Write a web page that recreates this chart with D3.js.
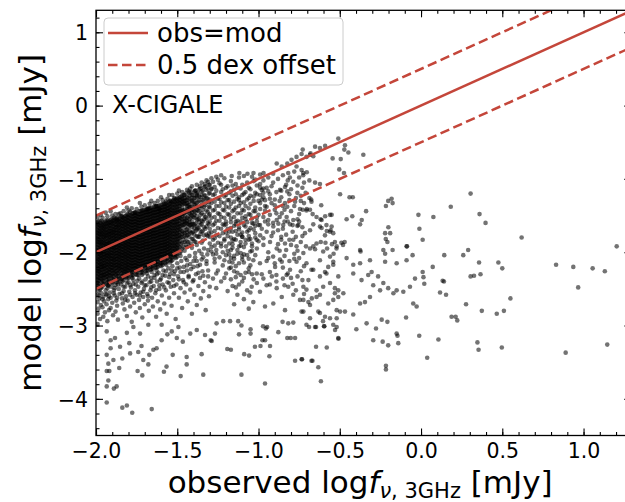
<!DOCTYPE html>
<html>
<head>
<meta charset="utf-8">
<script src="https://cdn.jsdelivr.net/npm/d3@7"></script>
<style>
  body { margin: 0; background: #fff; }
  text { font-family: "DejaVu Sans", sans-serif; fill: #000; }
</style>
</head>
<body>
<svg id="chart" width="625" height="502"></svg>
<script>

// tick values / labels
let x_ticks = [-2.0, -1.5, -1.0, -0.5, 0.0, 0.5, 1.0];
let y_ticks = [-4, -3, -2, -1, 0, 1];
let legend_labels = ["obs=mod", "0.5 dex offset"];
let line_offsets = [0, 0.5, -0.5];   // dex, model = obs + offset

let core_col_x = [-1.995, -1.98, -1.965, -1.95, -1.935, -1.92, -1.905, -1.89, -1.875, -1.86,
                  -1.845, -1.83, -1.815, -1.80, -1.785, -1.77, -1.755, -1.74, -1.725, -1.71,
                  -1.695, -1.68, -1.665, -1.65, -1.635, -1.62, -1.605, -1.59, -1.575, -1.56,
                  -1.545, -1.53, -1.515, -1.50, -1.485, -1.47, -1.455, -1.44, -1.425, -1.41,
                  -1.395, -1.38, -1.365, -1.35, -1.335, -1.32, -1.305];
let core_col_y = [
  [-1.60,-1.64,-1.69,-1.73,-1.76,-1.81,-1.85,-1.88,-1.93,-1.97,-2.00,-2.04,-2.09,-2.12,-2.16,-2.21,-2.25,-2.28,-2.33,-2.37,-2.42],
  [-1.63,-1.67,-1.71,-1.75,-1.79,-1.83,-1.86,-1.90,-1.95,-1.98,-2.02,-2.06,-2.10,-2.14,-2.18,-2.23,-2.26,-2.30,-2.35,-2.39,-2.44],
  [-1.57,-1.62,-1.66,-1.70,-1.74,-1.77,-1.82,-1.86,-1.89,-1.94,-1.97,-2.01,-2.05,-2.09,-2.13,-2.17,-2.20,-2.24,-2.29,-2.32,-2.37,-2.41,-2.46],
  [-1.61,-1.65,-1.68,-1.72,-1.77,-1.80,-1.84,-1.88,-1.92,-1.96,-1.99,-2.03,-2.07,-2.11,-2.15,-2.19,-2.22,-2.27,-2.31,-2.35,-2.40],
  [-1.56,-1.60,-1.64,-1.69,-1.73,-1.76,-1.80,-1.85,-1.89,-1.92,-1.96,-2.01,-2.04,-2.08,-2.12,-2.16,-2.20,-2.25,-2.29,-2.33,-2.38,-2.43],
  [-1.59,-1.63,-1.67,-1.71,-1.75,-1.79,-1.83,-1.87,-1.90,-1.94,-1.98,-2.02,-2.06,-2.10,-2.14,-2.18,-2.23,-2.27,-2.31,-2.36,-2.40,-2.44],
  [-1.55,-1.59,-1.62,-1.67,-1.71,-1.74,-1.78,-1.82,-1.86,-1.90,-1.93,-1.97,-2.01,-2.05,-2.09,-2.13,-2.17,-2.21,-2.25,-2.30,-2.35,-2.40],
  [-1.56,-1.60,-1.65,-1.69,-1.72,-1.76,-1.80,-1.84,-1.88,-1.92,-1.95,-1.99,-2.03,-2.08,-2.11,-2.15,-2.19,-2.24,-2.28,-2.33,-2.38],
  [-1.54,-1.58,-1.63,-1.66,-1.70,-1.74,-1.78,-1.82,-1.85,-1.89,-1.93,-1.97,-2.01,-2.05,-2.09,-2.13,-2.17,-2.21,-2.26,-2.31,-2.36,-2.41],
  [-1.55,-1.59,-1.63,-1.67,-1.71,-1.75,-1.79,-1.83,-1.87,-1.91,-1.95,-1.99,-2.03,-2.07,-2.11,-2.15,-2.19,-2.23,-2.28,-2.32,-2.37],
  [-1.51,-1.56,-1.60,-1.64,-1.68,-1.72,-1.76,-1.80,-1.84,-1.88,-1.92,-1.96,-2.00,-2.04,-2.08,-2.12,-2.16,-2.20,-2.24,-2.29,-2.33,-2.36],
  [-1.53,-1.57,-1.61,-1.65,-1.69,-1.73,-1.77,-1.81,-1.85,-1.89,-1.93,-1.97,-2.01,-2.05,-2.09,-2.13,-2.17,-2.22,-2.26,-2.30,-2.34,-2.38],
  [-1.50,-1.54,-1.58,-1.62,-1.66,-1.70,-1.74,-1.78,-1.82,-1.86,-1.90,-1.94,-1.98,-2.02,-2.06,-2.10,-2.14,-2.18,-2.22,-2.26,-2.30,-2.34],
  [-1.49,-1.53,-1.57,-1.61,-1.65,-1.69,-1.73,-1.77,-1.81,-1.85,-1.89,-1.93,-1.97,-2.01,-2.05,-2.09,-2.13,-2.17,-2.21,-2.25,-2.30,-2.35],
  [-1.50,-1.55,-1.59,-1.63,-1.67,-1.71,-1.75,-1.79,-1.83,-1.87,-1.91,-1.95,-1.99,-2.03,-2.07,-2.11,-2.15,-2.19,-2.24,-2.28,-2.33],
  [-1.47,-1.51,-1.55,-1.59,-1.63,-1.67,-1.71,-1.75,-1.79,-1.83,-1.87,-1.91,-1.95,-1.99,-2.03,-2.07,-2.11,-2.15,-2.19,-2.23,-2.27,-2.32],
  [-1.46,-1.50,-1.54,-1.58,-1.62,-1.66,-1.70,-1.74,-1.78,-1.82,-1.86,-1.90,-1.94,-1.98,-2.02,-2.06,-2.10,-2.14,-2.18,-2.22,-2.26,-2.30],
  [-1.48,-1.52,-1.56,-1.60,-1.64,-1.68,-1.72,-1.76,-1.80,-1.84,-1.88,-1.92,-1.96,-2.00,-2.04,-2.08,-2.12,-2.16,-2.20,-2.25,-2.31],
  [-1.44,-1.48,-1.52,-1.56,-1.60,-1.64,-1.68,-1.72,-1.76,-1.80,-1.84,-1.88,-1.92,-1.96,-2.00,-2.04,-2.08,-2.12,-2.16,-2.20,-2.24,-2.28],
  [-1.43,-1.47,-1.51,-1.55,-1.59,-1.63,-1.67,-1.71,-1.75,-1.79,-1.83,-1.87,-1.91,-1.95,-1.99,-2.03,-2.07,-2.11,-2.15,-2.19,-2.24,-2.29],
  [-1.45,-1.49,-1.53,-1.57,-1.61,-1.65,-1.69,-1.73,-1.77,-1.81,-1.85,-1.89,-1.93,-1.97,-2.01,-2.05,-2.09,-2.13,-2.17,-2.21,-2.26],
  [-1.41,-1.45,-1.49,-1.53,-1.57,-1.61,-1.65,-1.69,-1.73,-1.77,-1.81,-1.85,-1.89,-1.93,-1.97,-2.01,-2.05,-2.09,-2.13,-2.17,-2.21,-2.25],
  [-1.40,-1.44,-1.48,-1.52,-1.56,-1.60,-1.64,-1.68,-1.72,-1.76,-1.80,-1.84,-1.88,-1.92,-1.96,-2.00,-2.04,-2.08,-2.12,-2.16,-2.20,-2.24],
  [-1.42,-1.46,-1.50,-1.54,-1.58,-1.62,-1.66,-1.70,-1.74,-1.78,-1.82,-1.86,-1.90,-1.94,-1.98,-2.02,-2.06,-2.10,-2.14,-2.18,-2.22],
  [-1.38,-1.42,-1.46,-1.50,-1.54,-1.58,-1.62,-1.66,-1.70,-1.74,-1.78,-1.82,-1.86,-1.90,-1.94,-1.98,-2.02,-2.06,-2.10,-2.14,-2.17,-2.21],
  [-1.37,-1.41,-1.45,-1.49,-1.53,-1.57,-1.61,-1.65,-1.69,-1.73,-1.77,-1.81,-1.85,-1.89,-1.93,-1.97,-2.01,-2.05,-2.09,-2.13,-2.16,-2.20],
  [-1.39,-1.43,-1.47,-1.51,-1.55,-1.59,-1.63,-1.67,-1.71,-1.75,-1.79,-1.83,-1.87,-1.91,-1.95,-1.99,-2.03,-2.07,-2.11,-2.15,-2.18],
  [-1.35,-1.39,-1.43,-1.47,-1.51,-1.55,-1.59,-1.63,-1.67,-1.71,-1.75,-1.79,-1.83,-1.87,-1.91,-1.95,-1.99,-2.03,-2.07,-2.11,-2.14,-2.17],
  [-1.34,-1.38,-1.42,-1.46,-1.50,-1.54,-1.58,-1.62,-1.66,-1.70,-1.74,-1.78,-1.82,-1.86,-1.90,-1.94,-1.98,-2.02,-2.06,-2.10,-2.15],
  [-1.36,-1.40,-1.44,-1.48,-1.52,-1.56,-1.60,-1.64,-1.68,-1.72,-1.76,-1.80,-1.84,-1.88,-1.92,-1.96,-2.00,-2.04,-2.08,-2.12],
  [-1.30,-1.34,-1.38,-1.42,-1.46,-1.50,-1.54,-1.58,-1.62,-1.66,-1.70,-1.74,-1.78,-1.82,-1.86,-1.90,-1.94,-1.98,-2.02,-2.06,-2.10,-2.14],
  [-1.31,-1.35,-1.39,-1.43,-1.47,-1.51,-1.55,-1.59,-1.63,-1.67,-1.71,-1.75,-1.79,-1.83,-1.87,-1.91,-1.95,-1.99,-2.03,-2.07,-2.11],
  [-1.27,-1.31,-1.35,-1.39,-1.43,-1.47,-1.51,-1.55,-1.59,-1.63,-1.67,-1.71,-1.75,-1.79,-1.83,-1.87,-1.91,-1.95,-1.99,-2.03,-2.07],
  [-1.26,-1.30,-1.34,-1.38,-1.42,-1.46,-1.50,-1.54,-1.58,-1.62,-1.66,-1.70,-1.74,-1.78,-1.82,-1.86,-1.90,-1.94,-1.98,-2.02,-2.06],
  [-1.25,-1.29,-1.33,-1.37,-1.41,-1.45,-1.49,-1.53,-1.57,-1.61,-1.65,-1.69,-1.73,-1.77,-1.81,-1.85,-1.93,-2.01],
  [-1.23,-1.27,-1.31,-1.35,-1.39,-1.43,-1.47,-1.51,-1.55,-1.59,-1.63,-1.71,-1.75,-1.79,-1.87,-1.95],
  [-1.22,-1.26,-1.30,-1.34,-1.42,-1.46,-1.50,-1.54,-1.58,-1.62,-1.66,-1.74,-1.78,-1.86,-1.98],
  [-1.25,-1.29,-1.33,-1.37,-1.41,-1.45,-1.53,-1.57,-1.61,-1.69,-1.73,-1.77,-1.85,-1.93],
  [-1.19,-1.23,-1.31,-1.35,-1.39,-1.43,-1.47,-1.55,-1.59,-1.63,-1.71,-1.79,-1.91],
  [-1.22,-1.26,-1.30,-1.38,-1.42,-1.46,-1.50,-1.58,-1.62,-1.66,-1.74,-1.82,-1.94],
  [-1.17,-1.26,-1.31,-1.35,-1.44,-1.49,-1.53,-1.62,-1.67,-1.76,-1.85],
  [-1.20,-1.24,-1.33,-1.38,-1.42,-1.51,-1.56,-1.65,-1.69,-1.78,-1.90],
  [-1.14,-1.24,-1.29,-1.39,-1.44,-1.54,-1.59,-1.69,-1.79],
  [-1.17,-1.22,-1.32,-1.37,-1.47,-1.57,-1.62,-1.72,-1.87],
  [-1.11,-1.22,-1.27,-1.38,-1.49,-1.55,-1.66,-1.77],
  [-1.15,-1.26,-1.32,-1.43,-1.54,-1.65,-1.76],
  [-1.08,-1.20,-1.32,-1.38,-1.50,-1.62,-1.74]
];

// second pass over the core, columns in between the first ones
let core2_col_x = [-1.9875, -1.9725, -1.9575, -1.9425, -1.9275, -1.9125, -1.8975, -1.8825, -1.8675, -1.8525,
                   -1.8375, -1.8225, -1.8075, -1.7925, -1.7775, -1.7625, -1.7475, -1.7325, -1.7175, -1.7025,
                   -1.6875, -1.6725, -1.6575, -1.6425, -1.6275, -1.6125, -1.5975, -1.5825, -1.5675, -1.5525,
                   -1.5375, -1.5225, -1.5075, -1.4925, -1.4775, -1.4625, -1.4475, -1.4325, -1.4175, -1.4025,
                   -1.3875, -1.3725, -1.3575, -1.3425, -1.3275, -1.3125];
let core2_col_y = [
  [-1.58,-1.62,-1.66,-1.70,-1.74,-1.78,-1.82,-1.86,-1.90,-1.94,-1.98,-2.02,-2.06,-2.10,-2.14,-2.18,-2.22,-2.26,-2.30,-2.34,-2.38,-2.42,-2.46],
  [-1.60,-1.64,-1.68,-1.72,-1.76,-1.80,-1.84,-1.88,-1.92,-1.96,-2.00,-2.04,-2.08,-2.12,-2.16,-2.20,-2.24,-2.28,-2.32,-2.36],
  [-1.59,-1.63,-1.67,-1.71,-1.75,-1.79,-1.83,-1.87,-1.91,-1.95,-1.99,-2.03,-2.07,-2.11,-2.15,-2.19,-2.23,-2.27,-2.31,-2.35,-2.39,-2.43],
  [-1.58,-1.62,-1.66,-1.70,-1.74,-1.78,-1.82,-1.86,-1.90,-1.94,-1.98,-2.02,-2.06,-2.10,-2.14,-2.18,-2.22,-2.26,-2.30,-2.34],
  [-1.57,-1.61,-1.65,-1.69,-1.73,-1.77,-1.81,-1.85,-1.89,-1.93,-1.97,-2.01,-2.05,-2.09,-2.13,-2.17,-2.21,-2.25,-2.29,-2.33,-2.37,-2.41,-2.45],
  [-1.56,-1.60,-1.64,-1.68,-1.72,-1.76,-1.80,-1.84,-1.88,-1.92,-1.96,-2.00,-2.04,-2.08,-2.12,-2.16,-2.20,-2.24,-2.28,-2.32],
  [-1.57,-1.61,-1.65,-1.69,-1.73,-1.77,-1.81,-1.85,-1.89,-1.93,-1.97,-2.01,-2.05,-2.09,-2.13,-2.17,-2.21,-2.25,-2.29,-2.33,-2.37,-2.41],
  [-1.54,-1.58,-1.62,-1.66,-1.70,-1.74,-1.78,-1.82,-1.86,-1.90,-1.94,-1.98,-2.02,-2.06,-2.10,-2.14,-2.18,-2.22,-2.26,-2.30],
  [-1.53,-1.57,-1.61,-1.65,-1.69,-1.73,-1.77,-1.81,-1.85,-1.89,-1.93,-1.97,-2.01,-2.05,-2.09,-2.13,-2.17,-2.21,-2.25,-2.29,-2.33,-2.37,-2.41],
  [-1.54,-1.58,-1.62,-1.66,-1.70,-1.74,-1.78,-1.82,-1.86,-1.90,-1.94,-1.98,-2.02,-2.06,-2.10,-2.14,-2.18,-2.22,-2.26],
  [-1.52,-1.56,-1.60,-1.64,-1.68,-1.72,-1.76,-1.80,-1.84,-1.88,-1.92,-1.96,-2.00,-2.04,-2.08,-2.12,-2.16,-2.20,-2.24,-2.28,-2.32,-2.36,-2.40],
  [-1.51,-1.55,-1.59,-1.63,-1.67,-1.71,-1.75,-1.79,-1.83,-1.87,-1.91,-1.95,-1.99,-2.03,-2.07,-2.11,-2.15,-2.19,-2.23,-2.27],
  [-1.48,-1.52,-1.56,-1.60,-1.64,-1.68,-1.72,-1.76,-1.80,-1.84,-1.88,-1.92,-1.96,-2.00,-2.04,-2.08,-2.12,-2.16,-2.20,-2.24,-2.28,-2.32,-2.36],
  [-1.50,-1.54,-1.58,-1.62,-1.66,-1.70,-1.74,-1.78,-1.82,-1.86,-1.90,-1.94,-1.98,-2.02,-2.06,-2.10,-2.14,-2.18,-2.22,-2.26],
  [-1.47,-1.51,-1.55,-1.59,-1.63,-1.67,-1.71,-1.75,-1.79,-1.83,-1.87,-1.91,-1.95,-1.99,-2.03,-2.07,-2.11,-2.15,-2.19,-2.23,-2.27,-2.31,-2.35],
  [-1.46,-1.50,-1.54,-1.58,-1.62,-1.66,-1.70,-1.74,-1.78,-1.82,-1.86,-1.90,-1.94,-1.98,-2.02,-2.06,-2.10,-2.14,-2.18,-2.22],
  [-1.47,-1.51,-1.55,-1.59,-1.63,-1.67,-1.71,-1.75,-1.79,-1.83,-1.87,-1.91,-1.95,-1.99,-2.03,-2.07,-2.11,-2.15,-2.19,-2.23,-2.27,-2.31],
  [-1.44,-1.48,-1.52,-1.56,-1.60,-1.64,-1.68,-1.72,-1.76,-1.80,-1.84,-1.88,-1.92,-1.96,-2.00,-2.04,-2.08,-2.12,-2.16,-2.20],
  [-1.43,-1.47,-1.51,-1.55,-1.59,-1.63,-1.67,-1.71,-1.75,-1.79,-1.83,-1.87,-1.91,-1.95,-1.99,-2.03,-2.07,-2.11,-2.15,-2.19,-2.23,-2.27,-2.31],
  [-1.42,-1.46,-1.50,-1.54,-1.58,-1.62,-1.66,-1.70,-1.74,-1.78,-1.82,-1.86,-1.90,-1.94,-1.98,-2.02,-2.06,-2.10,-2.14,-2.18],
  [-1.41,-1.45,-1.49,-1.53,-1.57,-1.61,-1.65,-1.69,-1.73,-1.77,-1.81,-1.85,-1.89,-1.93,-1.97,-2.01,-2.05,-2.09,-2.13,-2.17,-2.21,-2.25,-2.29],
  [-1.40,-1.44,-1.48,-1.52,-1.56,-1.60,-1.64,-1.68,-1.72,-1.76,-1.80,-1.84,-1.88,-1.92,-1.96,-2.00,-2.04,-2.08,-2.12,-2.16],
  [-1.39,-1.43,-1.47,-1.51,-1.55,-1.59,-1.63,-1.67,-1.71,-1.75,-1.79,-1.83,-1.87,-1.91,-1.95,-1.99,-2.03,-2.07,-2.11,-2.15,-2.19,-2.23,-2.27],
  [-1.38,-1.42,-1.46,-1.50,-1.54,-1.58,-1.62,-1.66,-1.70,-1.74,-1.78,-1.82,-1.86,-1.90,-1.94,-1.98,-2.02,-2.06,-2.10,-2.14],
  [-1.37,-1.41,-1.45,-1.49,-1.53,-1.57,-1.61,-1.65,-1.69,-1.73,-1.77,-1.81,-1.85,-1.89,-1.93,-1.97,-2.01,-2.05,-2.09,-2.13,-2.17,-2.21,-2.25],
  [-1.36,-1.40,-1.44,-1.48,-1.52,-1.56,-1.60,-1.64,-1.68,-1.72,-1.76,-1.80,-1.84,-1.88,-1.92,-1.96,-2.00,-2.04,-2.08],
  [-1.35,-1.39,-1.43,-1.47,-1.51,-1.55,-1.59,-1.63,-1.67,-1.71,-1.75,-1.79,-1.83,-1.87,-1.91,-1.95,-1.99,-2.03,-2.07,-2.11,-2.15,-2.19],
  [-1.34,-1.38,-1.42,-1.46,-1.50,-1.54,-1.58,-1.62,-1.66,-1.70,-1.74,-1.78,-1.82,-1.86,-1.90,-1.94,-1.98,-2.02,-2.06],
  [-1.33,-1.37,-1.41,-1.45,-1.49,-1.53,-1.57,-1.61,-1.65,-1.69,-1.73,-1.77,-1.81,-1.85,-1.89,-1.93,-1.97,-2.01,-2.05,-2.09,-2.13,-2.17],
  [-1.32,-1.36,-1.40,-1.44,-1.48,-1.52,-1.56,-1.60,-1.64,-1.68,-1.72,-1.76,-1.80,-1.84,-1.88,-1.92,-1.96,-2.00,-2.04],
  [-1.32,-1.37,-1.42,-1.47,-1.52,-1.57,-1.62,-1.67,-1.72,-1.77,-1.82,-1.87,-1.92,-1.97,-2.02,-2.07,-2.12],
  [-1.29,-1.34,-1.39,-1.44,-1.49,-1.54,-1.59,-1.64,-1.69,-1.74,-1.79,-1.84,-1.89,-1.94,-1.99,-2.04],
  [-1.28,-1.33,-1.38,-1.43,-1.48,-1.53,-1.58,-1.63,-1.68,-1.73,-1.78,-1.83,-1.88,-1.93,-1.98,-2.03,-2.08],
  [-1.27,-1.32,-1.37,-1.42,-1.47,-1.52,-1.57,-1.62,-1.67,-1.72,-1.77,-1.82,-1.87,-1.92,-1.97],
  [-1.24,-1.29,-1.34,-1.44,-1.49,-1.54,-1.64,-1.69,-1.79,-1.89,-1.99],
  [-1.28,-1.33,-1.43,-1.48,-1.58,-1.63,-1.73,-1.83,-1.93],
  [-1.20,-1.30,-1.35,-1.45,-1.55,-1.60,-1.70,-1.80,-1.90],
  [-1.26,-1.36,-1.41,-1.51,-1.61,-1.66,-1.76,-1.86],
  [-1.18,-1.28,-1.38,-1.48,-1.53,-1.63,-1.73,-1.88],
  [-1.22,-1.32,-1.42,-1.52,-1.62,-1.72,-1.82],
  [-1.16,-1.26,-1.36,-1.46,-1.61,-1.71,-1.86],
  [-1.19,-1.31,-1.43,-1.55,-1.67,-1.79],
  [-1.13,-1.25,-1.37,-1.49,-1.63,-1.75],
  [-1.16,-1.29,-1.42,-1.58,-1.71,-1.84],
  [-1.10,-1.23,-1.36,-1.52,-1.68],
  [-1.13,-1.27,-1.45,-1.60,-1.78]
];

// sources just above the core
let upper_fringe = [
  [-1.98,-1.57],[-1.96,-1.53],[-1.93,-1.51],[-1.90,-1.50],[-1.88,-1.48],[-1.85,-1.47],[-1.83,-1.44],
  [-1.80,-1.43],[-1.78,-1.40],[-1.75,-1.41],[-1.72,-1.38],[-1.70,-1.36],[-1.67,-1.34],[-1.64,-1.33],
  [-1.62,-1.30],[-1.59,-1.29],[-1.56,-1.27],[-1.53,-1.22],[-1.50,-1.20],[-1.47,-1.18],[-1.44,-1.15],
  [-1.41,-1.10],[-1.38,-1.08],[-1.35,-1.05],[-1.32,-1.02],[-1.29,-0.99],[-1.26,-0.97],[-1.23,-0.95],
  [-1.43,-1.17],[-1.54,-1.30],[-1.61,-1.41],[-1.68,-1.40],[-1.79,-1.45],[-1.86,-1.48],[-1.87,-1.56],
  [-1.29,-1.14],[-1.38,-1.22],
  [-1.99,-1.52],[-1.97,-1.49],[-1.94,-1.46],[-1.91,-1.44],[-1.89,-1.53],[-1.84,-1.51],[-1.81,-1.39],
  [-1.76,-1.46],[-1.73,-1.33],[-1.69,-1.42],[-1.66,-1.30],[-1.63,-1.37],[-1.60,-1.25],[-1.57,-1.31],
  [-1.55,-1.22],[-1.52,-1.26],[-1.49,-1.16],[-1.46,-1.22],[-1.42,-1.13],[-1.39,-1.16],[-1.36,-1.10],
  [-1.33,-1.07],[-1.31,-1.04]
];

// the thinning region right of the core
let core_edge = [
  [-1.28,-1.04],[-1.25,-1.01],[-1.21,-0.99],[-1.17,-1.03],[-1.12,-0.98],[-1.09,-0.96],[-1.04,-0.97],[-0.99,-0.94],
  [-1.23,-1.08],[-1.19,-1.10],[-1.14,-1.07],[-1.07,-1.05],[-1.01,-1.09],[-0.97,-1.02],
  [-1.29,-1.13],[-1.26,-1.16],[-1.22,-1.14],[-1.18,-1.19],[-1.15,-1.15],[-1.11,-1.13],[-1.08,-1.18],[-1.05,-1.14],
  [-1.02,-1.19],[-0.98,-1.15],[-0.95,-1.12],
  [-1.28,-1.22],[-1.25,-1.27],[-1.21,-1.24],[-1.19,-1.29],[-1.16,-1.23],[-1.13,-1.27],[-1.10,-1.22],[-1.07,-1.28],
  [-1.03,-1.24],[-1.00,-1.30],[-0.97,-1.25],[-0.93,-1.21],
  [-1.29,-1.33],[-1.26,-1.37],[-1.23,-1.32],[-1.20,-1.38],[-1.17,-1.34],[-1.14,-1.39],[-1.11,-1.33],[-1.08,-1.37],
  [-1.05,-1.34],[-1.02,-1.39],[-0.99,-1.33],[-0.95,-1.38],
  [-1.28,-1.43],[-1.25,-1.47],[-1.22,-1.42],[-1.19,-1.48],[-1.16,-1.44],[-1.13,-1.47],[-1.10,-1.42],[-1.06,-1.48],
  [-1.03,-1.44],[-1.00,-1.49],[-0.96,-1.43],
  [-1.29,-1.53],[-1.26,-1.57],[-1.23,-1.52],[-1.20,-1.58],[-1.17,-1.54],[-1.13,-1.57],[-1.10,-1.53],[-1.07,-1.59],
  [-1.04,-1.54],[-1.01,-1.58],[-0.97,-1.52],
  [-1.28,-1.63],[-1.25,-1.67],[-1.22,-1.62],[-1.19,-1.68],[-1.15,-1.64],[-1.12,-1.69],[-1.09,-1.63],[-1.05,-1.67],
  [-1.02,-1.64],[-0.98,-1.68],
  [-1.29,-1.73],[-1.26,-1.77],[-1.22,-1.74],[-1.19,-1.78],[-1.16,-1.72],[-1.13,-1.76],[-1.10,-1.73],[-1.06,-1.78],
  [-1.02,-1.74],[-0.99,-1.77],
  [-1.28,-1.83],[-1.25,-1.87],[-1.21,-1.84],[-1.18,-1.88],[-1.15,-1.82],[-1.11,-1.86],[-1.08,-1.83],[-1.04,-1.88],[-1.00,-1.85],
  [-1.29,-1.93],[-1.26,-1.97],[-1.23,-1.92],[-1.19,-1.98],[-1.16,-1.94],[-1.13,-1.97],[-1.09,-1.93],[-1.05,-1.99],[-1.01,-1.95],
  [-1.28,-2.03],[-1.24,-2.07],[-1.20,-2.04],[-1.17,-2.08],[-1.13,-2.02],[-1.10,-2.06],[-1.06,-2.09],[-1.02,-2.04],
  [-1.27,-2.14],[-1.22,-2.18],[-1.18,-2.13],[-1.14,-2.19],[-1.09,-2.14],[-1.05,-2.18],[-1.25,-2.25],[-1.20,-2.29],
  [-1.15,-2.26],[-1.11,-2.31],[-1.06,-2.27],[-1.28,-2.36],[-1.23,-2.40],[-1.17,-2.37],[-1.12,-2.44],[-1.26,-2.49],
  [-1.19,-2.53],[-1.14,-2.48],
  [-1.30,-1.08],[-1.27,-1.11],[-1.24,-1.06],[-1.20,-1.12],[-1.16,-1.09],[-1.13,-1.12],[-1.10,-1.08],[-1.06,-1.12],
  [-1.03,-1.03],[-0.99,-1.07],
  [-1.30,-1.19],[-1.27,-1.21],[-1.23,-1.18],[-1.20,-1.22],[-1.17,-1.17],[-1.14,-1.21],[-1.12,-1.25],[-1.09,-1.20],
  [-1.05,-1.23],[-1.01,-1.21],[-0.97,-1.19],
  [-1.30,-1.28],[-1.27,-1.31],[-1.24,-1.27],[-1.21,-1.33],[-1.18,-1.29],[-1.15,-1.31],[-1.12,-1.29],[-1.09,-1.32],
  [-1.06,-1.26],[-1.03,-1.30],[-0.98,-1.28],
  [-1.30,-1.39],[-1.27,-1.42],[-1.24,-1.37],[-1.21,-1.43],[-1.18,-1.39],[-1.15,-1.42],[-1.12,-1.37],[-1.09,-1.43],
  [-1.06,-1.40],[-1.02,-1.44],[-0.99,-1.41],
  [-1.30,-1.48],[-1.27,-1.52],[-1.24,-1.48],[-1.21,-1.53],[-1.18,-1.49],[-1.15,-1.52],[-1.11,-1.47],[-1.08,-1.51],
  [-1.05,-1.49],[-1.01,-1.53],
  [-1.30,-1.58],[-1.27,-1.61],[-1.24,-1.57],[-1.21,-1.63],[-1.17,-1.59],[-1.14,-1.62],[-1.11,-1.58],[-1.08,-1.65],
  [-1.04,-1.60],[-1.00,-1.63],
  [-1.30,-1.68],[-1.27,-1.71],[-1.23,-1.68],[-1.20,-1.73],[-1.17,-1.67],[-1.14,-1.71],[-1.11,-1.76],[-1.07,-1.72],[-1.03,-1.69],
  [-1.30,-1.79],[-1.27,-1.81],[-1.24,-1.78],[-1.21,-1.82],[-1.17,-1.80],[-1.14,-1.83],[-1.10,-1.79],[-1.06,-1.83],[-1.02,-1.80],
  [-1.30,-1.88],[-1.27,-1.91],[-1.23,-1.88],[-1.20,-1.92],[-1.16,-1.89],[-1.12,-1.92],[-1.08,-1.88],[-1.04,-1.92],
  [-1.29,-1.99],[-1.26,-2.02],[-1.22,-2.00],[-1.18,-2.03],[-1.15,-2.05],[-1.11,-2.01],[-1.07,-2.04],[-1.27,-2.09],
  [-1.21,-2.11],[-1.16,-2.14],[-1.10,-2.10],
  [-0.94,-0.98],[-0.91,-0.93],[-0.88,-1.00],[-0.85,-0.95],[-0.82,-1.02],[-0.78,-0.90],[-0.75,-0.98],[-0.72,-1.05],
  [-0.92,-1.10],[-0.89,-1.18],[-0.86,-1.25],[-0.83,-1.08],[-0.80,-1.14],[-0.77,-1.26],[-0.73,-1.12],[-0.71,-1.19],
  [-0.93,-1.27],[-0.90,-1.36],[-0.87,-1.30],[-0.84,-1.42],[-0.81,-1.29],[-0.78,-1.37],[-0.75,-1.48],[-0.72,-1.33],
  [-0.94,-1.56],[-0.91,-1.60],[-0.87,-1.52],[-0.85,-1.68],[-0.82,-1.58],[-0.79,-1.72],[-0.76,-1.55],[-0.73,-1.66],
  [-0.95,-1.72],[-0.92,-1.78],[-0.88,-1.70],[-0.86,-1.83],[-0.83,-1.76],[-0.80,-1.90],[-0.77,-1.79],[-0.74,-1.86],
  [-0.94,-2.00],[-0.91,-2.06],[-0.87,-1.98],[-0.84,-2.05],[-0.81,-2.12],[-0.78,-2.02],[-0.75,-2.08],[-0.72,-2.19],
  [-0.93,-2.27],[-0.89,-2.40],[-0.85,-2.36],[-0.82,-2.29],[-0.79,-2.43],[-0.76,-2.33],[-0.73,-2.38],
  [-0.99,-1.12],[-0.96,-1.37],[-0.94,-1.62],[-0.97,-1.81],[-0.95,-2.12],[-0.98,-2.30],[-0.93,-2.44],
  [-0.91,-1.05],[-0.90,-1.28],[-0.89,-1.47],[-0.91,-1.73],[-0.88,-1.89],[-0.90,-2.15],[-0.89,-2.31],
  [-0.86,-1.16],[-0.85,-1.37],[-0.84,-1.58],[-0.86,-1.79],[-0.83,-1.97],[-0.85,-2.21],[-0.84,-2.45],
  [-0.81,-1.21],[-0.80,-1.44],[-0.79,-1.63],[-0.81,-1.83],[-0.78,-2.09],[-0.80,-2.35],[-0.77,-2.52],
  [-0.76,-1.09],[-0.74,-1.30],[-0.75,-1.58],[-0.73,-1.78],[-0.76,-1.98],[-0.74,-2.26],[-0.72,-2.57],
  [-1.48,-2.05],[-1.44,-2.11],[-1.39,-2.07],[-1.35,-2.02],[-1.31,-1.97],[-1.26,-2.29],[-1.21,-2.35],[-1.17,-2.21],
  [-1.13,-2.28],[-1.09,-2.35],[-1.04,-2.30],[-1.01,-2.42]
];

// sources below the core
let lower_halo = [
  [-1.995,-2.49],[-1.985,-2.53],[-1.99,-2.58],[-1.975,-2.51],[-1.98,-2.63],[-1.99,-2.68],[-1.97,-2.72],[-1.985,-2.77],
  [-1.99,-2.84],[-1.975,-2.91],[-1.99,-2.98],[-1.965,-2.56],[-1.96,-2.47],[-1.955,-2.61],[-1.95,-2.67],[-1.96,-2.75],
  [-1.945,-2.82],[-1.955,-2.88],[-1.94,-2.52],[-1.935,-2.58],[-1.93,-2.49],[-1.925,-2.64],[-1.935,-2.71],[-1.92,-2.79],
  [-1.93,-2.94],[-1.915,-2.55],[-1.91,-2.62],[-1.905,-2.47],[-1.90,-2.69],[-1.91,-2.76],[-1.895,-2.86],[-1.89,-2.52],
  [-1.885,-2.59],[-1.88,-2.45],[-1.875,-2.66],[-1.87,-2.73],[-1.88,-2.81],[-1.865,-2.92],[-1.86,-2.50],[-1.855,-2.57],
  [-1.845,-2.44],[-1.84,-2.63],[-1.835,-2.70],[-1.83,-2.53],[-1.825,-2.78],[-1.82,-2.47],[-1.815,-2.60],[-1.81,-2.87],
  [-1.805,-2.66],[-1.80,-2.41],[-1.795,-2.54],[-1.79,-2.74],[-1.785,-2.48],[-1.78,-2.95],[-1.775,-2.61],[-1.77,-2.43],
  [-1.765,-2.69],[-1.76,-2.52],[-1.755,-2.82],[-1.75,-2.58],[-1.745,-2.39],[-1.74,-2.47],[-1.735,-2.65],[-1.73,-2.76],
  [-1.725,-2.55],[-1.72,-2.42],[-1.715,-2.89],[-1.71,-2.61],[-1.705,-2.50],[-1.70,-2.71],
  [-1.695,-2.37],[-1.69,-2.45],[-1.685,-2.57],[-1.68,-2.66],[-1.675,-2.80],[-1.67,-2.41],[-1.665,-2.52],[-1.66,-2.35],
  [-1.655,-2.62],[-1.65,-2.74],[-1.645,-2.46],[-1.64,-2.31],[-1.635,-2.56],[-1.63,-2.88],[-1.625,-2.40],[-1.62,-2.67],
  [-1.615,-2.28],[-1.61,-2.50],[-1.605,-2.78],[-1.60,-2.36],[-1.595,-2.59],[-1.59,-2.44],[-1.585,-2.25],[-1.58,-2.70],
  [-1.575,-2.32],[-1.57,-2.52],[-1.565,-2.84],[-1.56,-2.41],[-1.555,-2.22],[-1.55,-2.62],[-1.545,-2.30],[-1.54,-2.47],
  [-1.535,-2.73],[-1.53,-2.19],[-1.525,-2.38],[-1.52,-2.56],[-1.515,-2.26],[-1.51,-2.91],[-1.505,-2.44],[-1.50,-2.15],
  [-1.495,-2.33],[-1.49,-2.62],[-1.485,-2.21],[-1.48,-2.49],[-1.475,-2.12],[-1.47,-2.76],[-1.465,-2.38],[-1.46,-2.27],
  [-1.455,-2.55],[-1.45,-2.08],[-1.445,-2.44],[-1.44,-2.18],[-1.435,-2.67],[-1.43,-2.32],[-1.425,-2.05],[-1.42,-2.51],
  [-1.415,-2.23],[-1.41,-2.84],[-1.405,-2.40],[-1.40,-2.12],[-1.395,-2.58],[-1.39,-2.01],[-1.385,-2.30],[-1.38,-2.72],
  [-1.375,-2.19],[-1.37,-2.46],[-1.365,-1.98],[-1.36,-2.35],[-1.355,-2.63],[-1.35,-2.10],[-1.345,-2.26],[-1.34,-2.53],
  [-1.335,-1.95],[-1.33,-2.41],[-1.325,-2.79],[-1.32,-2.16],[-1.315,-2.03],[-1.31,-2.33],[-1.305,-2.60],[-1.30,-2.47],
  [-1.99,-2.45],[-1.97,-2.49],[-1.95,-2.44],[-1.925,-2.46],[-1.90,-2.42],[-1.885,-2.49],[-1.865,-2.44],[-1.85,-2.40],
  [-1.83,-2.47],[-1.81,-2.42],[-1.79,-2.45],[-1.77,-2.38],[-1.755,-2.44],[-1.735,-2.36],[-1.715,-2.40],[-1.70,-2.45],
  [-1.68,-2.33],[-1.66,-2.40],[-1.64,-2.35],[-1.625,-2.30],[-1.605,-2.38],[-1.59,-2.31],[-1.57,-2.26],[-1.55,-2.34],
  [-1.535,-2.25],[-1.52,-2.30],[-1.50,-2.22],[-1.48,-2.27],[-1.46,-2.20],[-1.44,-2.25],[-1.42,-2.16],[-1.40,-2.20],
  [-1.38,-2.12],[-1.36,-2.17],[-1.34,-2.07],[-1.32,-2.12],
  [-1.98,-2.59],[-1.96,-2.64],[-1.94,-2.57],[-1.92,-2.60],[-1.89,-2.56],[-1.87,-2.62],[-1.84,-2.56],[-1.82,-2.65],
  [-1.79,-2.58],[-1.76,-2.56],[-1.73,-2.59],[-1.71,-2.54],[-1.68,-2.60],[-1.66,-2.48],[-1.63,-2.52],[-1.61,-2.45],
  [-1.58,-2.48],[-1.55,-2.42],[-1.52,-2.46],[-1.49,-2.37],[-1.46,-2.41],[-1.43,-2.34],[-1.40,-2.38],[-1.37,-2.28],
  [-1.34,-2.32],[-1.31,-2.25]
];

// the broad cloud between -1.2 and -0.5
let mid_scatter = [
  [-1.18,-1.72],[-1.16,-1.84],[-1.17,-1.97],[-1.15,-2.09],[-1.18,-2.22],[-1.14,-2.34],[-1.16,-2.46],[-1.13,-2.58],[-1.15,-2.71],
  [-1.12,-1.66],[-1.10,-1.79],[-1.11,-1.91],[-1.09,-2.03],[-1.12,-2.15],[-1.08,-2.28],[-1.10,-2.40],[-1.07,-2.52],[-1.09,-2.64],[-1.06,-2.77],
  [-1.06,-1.70],[-1.05,-1.82],[-1.04,-1.98],[-1.06,-2.22],[-1.03,-2.37],[-1.05,-2.55],[-1.20,-1.62],[-1.14,-1.58],[-1.08,-1.55],
  [-1.165,-0.96],[-1.118,-0.92],[-1.068,-0.93],[-1.031,-0.92],[-0.969,-0.92],[-1.02,-1.01],[-0.888,-0.79],[-0.857,-0.83],
  [-0.823,-0.79],[-0.797,-0.74],[-0.766,-0.70],[-0.735,-0.66],[-0.705,-0.70],[-0.68,-0.65],[-0.766,-0.83],[-0.735,-0.88],
  [-0.725,-0.95],[-0.817,-0.92],[-0.807,-0.98],[-0.786,-1.04],[-0.837,-1.11],[-0.868,-1.15],[-0.823,-1.17],[-0.761,-1.19],
  [-0.74,-1.23],[-0.687,-1.26],[-0.674,-1.31],[-0.775,-1.31],[-0.745,-1.41],[-0.705,-1.43],[-0.837,-1.33],[-0.823,-1.38],
  [-0.857,-1.47],[-0.827,-1.52],[-0.786,-1.56],[-0.761,-1.64],[-0.643,-1.52],[-0.612,-1.56],[-0.582,-1.63],[-0.55,-1.65],
  [-0.92,-1.33],[-0.90,-1.42],[-0.93,-1.49],[-0.888,-1.56],[-0.97,-1.13],[-0.94,-1.17],[-0.99,-1.22],[-0.96,-1.29],
  [-0.728,-0.60],[-0.652,-0.56],[-0.622,-0.58],[-0.59,-0.55],[-0.683,-0.67],[-0.663,-0.69],[-0.724,-0.92],[-0.703,-0.91],
  [-0.687,-1.02],[-0.652,-1.05],[-0.622,-1.07],[-0.676,-1.28],[-0.614,-1.36],[-0.728,-1.42],[-0.703,-1.41],[-0.683,-1.42],
  [-0.667,-1.48],[-0.618,-1.55],[-0.59,-1.51],[-0.56,-1.49],[-0.663,-1.62],[-0.612,-1.67],[-0.58,-1.71],[-0.56,-1.72],
  [-1.032,-1.61],[-0.991,-1.63],[-0.96,-1.58],[-0.909,-1.65],[-0.878,-1.61],[-0.848,-1.63],[-0.806,-1.62],[-0.755,-1.63],
  [-0.714,-1.74],[-0.683,-1.70],[-0.622,-1.65],[-0.591,-1.77],[-0.54,-1.74],
  [-1.011,-1.83],[-0.97,-1.90],[-0.929,-1.86],[-0.888,-1.95],[-0.837,-1.88],[-0.786,-1.83],[-0.766,-1.92],[-0.724,-2.01],
  [-0.683,-1.95],[-0.643,-1.88],[-0.602,-1.99],[-0.56,-2.06],[-0.519,-1.92],
  [-1.032,-2.11],[-0.991,-2.15],[-0.94,-2.08],[-0.898,-2.20],[-0.868,-2.10],[-0.857,-2.13],[-0.806,-2.24],[-0.766,-2.13],
  [-0.705,-2.15],[-0.674,-2.24],[-0.622,-2.11],[-0.582,-2.29],[-0.54,-2.17],[-0.509,-2.33],[-1.011,-2.29],[-0.97,-2.36],
  [-0.918,-2.33],[-0.827,-2.31],
  [-1.042,-2.47],[-0.991,-2.54],[-0.95,-2.45],[-0.888,-2.49],[-0.857,-2.61],[-0.817,-2.47],[-0.786,-2.58],[-0.745,-2.65],
  [-0.705,-2.51],[-0.683,-2.72],[-0.643,-2.61],[-0.602,-2.47],[-0.571,-2.70],[-0.53,-2.56],[-1.032,-2.68],[-0.96,-2.74],
  [-0.909,-2.70],[-0.837,-2.79],[-0.724,-2.81],[-0.622,-2.83],[-0.56,-2.90],[-0.519,-2.79],
  [-0.708,-1.92],[-0.663,-1.92],[-0.652,-1.96],[-0.617,-1.86],[-0.588,-1.87],[-0.578,-1.95],[-0.548,-1.89],[-0.538,-2.02],
  [-0.724,-2.65],[-0.693,-2.68],[-0.672,-2.63],[-0.735,-2.81],[-0.683,-2.90],[-0.632,-2.81],[-0.591,-2.88],
  [-0.54,-2.65],[-0.509,-2.61],[-0.56,-2.42],[-0.53,-2.49],[-0.509,-2.52],[-0.622,-2.33],[-0.591,-2.27],[-0.571,-2.20],
  [-0.54,-2.13],[-0.663,-2.24],[-0.693,-2.38],[-0.724,-2.47],[-0.643,-2.52],[-0.622,-2.58]
];

// faint sources, model below about -3
let faint_tail = [
  [-1.934,-3.62],[-1.918,-3.62],[-1.924,-3.75],[-1.934,-3.83],[-1.89,-3.86],[-1.873,-3.83],[-1.934,-4.05],
  [-1.838,-4.12],[-1.81,-4.09],[-1.777,-4.19],[-1.657,-4.14],[-1.479,-3.69],[-1.34,-3.67],[-1.35,-3.39],
  [-1.442,-3.43],[-1.442,-3.53],[-1.528,-3.40],[-1.566,-3.56],[-1.582,-3.63],[-1.678,-3.53],[-1.715,-3.68],
  [-1.744,-3.62],[-1.709,-3.47],[-1.79,-3.38],[-1.838,-3.45],[-1.857,-3.58],[-1.893,-3.47],[-1.924,-3.52],
  [-1.91,-3.31],[-1.934,-3.40],[-1.91,-3.20],[-1.934,-3.08],[-1.883,-3.17],[-1.852,-3.29],[-1.795,-3.24],
  [-1.74,-3.36],[-1.72,-3.28],[-1.672,-3.40],[-1.647,-3.33],[-1.627,-3.31],[-1.596,-3.20],[-1.561,-3.12],
  [-1.503,-3.17],[-1.466,-3.22],[-1.42,-3.11],[-1.38,-3.06],[-1.329,-3.13],[-1.294,-3.20],[-1.268,-3.11],
  [-1.729,-3.11],[-1.77,-3.02],[-1.81,-3.10],[-1.678,-2.99],[-1.596,-2.99],[-1.534,-3.08],[-1.493,-3.02],
  [-1.288,-3.21],[-1.258,-2.97],[-1.217,-2.94],[-1.175,-2.94],[-1.125,-2.94],[-1.105,-3.00],[-1.12,-3.12],
  [-1.192,-3.32],[-1.17,-3.33],[-1.105,-3.67],[-1.088,-3.39],[-1.058,-3.41],[-1.049,-3.05],[-1.049,-3.11],
  [-1.022,-3.29],[-0.988,-3.28],[-0.976,-3.20],[-0.96,-3.20],[-0.972,-3.01],[-0.955,-3.04],[-0.947,-3.02],
  [-0.929,-3.28],[-0.933,-3.42],[-0.96,-3.79],[-0.878,-3.09],[-0.852,-2.95],[-0.817,-2.97],[-0.786,-2.96],
  [-0.823,-3.17],[-0.802,-3.17],[-0.775,-3.17],[-0.775,-3.48],[-0.732,-3.46],[-0.705,-2.99],[-0.689,-3.02],
  [-0.674,-3.48],[-0.646,-3.29],[-0.632,-3.57],[-0.616,-3.76],[-0.646,-3.02],[-0.595,-3.01],[-0.58,-3.30],
  [-0.603,-2.94],[-0.529,-3.06],[-0.519,-3.02],[-0.508,-3.18],[-0.652,-3.02],[-0.597,-3.01],[-0.54,-2.99],
  [-0.519,-2.90],[-0.498,-2.81],[-0.468,-2.81],[-0.509,-3.17],[-0.735,-3.46],[-0.668,-3.48]
];

// brighter sources, obs above about -0.5
let bright_tail = [
  [-0.509,-0.45],[-0.468,-0.54],[-0.472,-0.60],[-0.447,-0.64],[-0.355,-0.67],[-0.544,-0.72],[-0.494,-0.73],
  [-0.503,-0.87],[-0.474,-0.92],[-0.498,-1.21],[-0.44,-1.25],[-0.42,-1.25],[-0.216,-1.37],[-0.202,-1.30],
  [-0.181,-1.27],[-0.175,-1.33],[-0.338,-1.44],[-0.458,-1.55],[-0.423,-1.51],[-0.365,-1.56],[-0.375,-1.62],
  [-0.201,-1.66],[-0.221,-1.74],[-0.19,-1.74],[-0.217,-1.82],[-0.207,-1.86],[-0.175,-1.97],[-0.232,-1.97],
  [-0.221,-2.02],[-0.016,-1.49],[0.076,-1.52],[-0.01,-1.68],[0.01,-1.83],[-0.089,-1.92],[-0.052,-2.04],
  [0.183,-1.38],[0.305,-1.20],[0.36,-1.48],[-0.375,-1.97],[-0.53,-1.86],[-0.52,-1.95],[-0.48,-1.90],
  [-0.47,-1.86],[-0.556,-1.70],[-0.55,-1.49],[0.143,-2.04],[0.26,-2.04],[0.29,-1.97],[0.397,-1.60],
  [0.619,-1.80],[1.204,-1.92],[-0.49,-1.87],[-0.372,-1.99],[-0.086,-1.92],[0.357,-2.14],[0.476,-2.14],
  [0.50,-2.22],[0.831,-2.17],[0.937,-2.20],[1.056,-2.22],[1.131,-2.26],[0.967,-2.48],[0.55,-2.63],
  [0.51,-2.80],[0.466,-2.84],[0.374,-2.80],[0.347,-3.23],[0.354,-3.33],[0.497,-3.30],[0.89,-3.37],
  [1.146,-3.26],[0.277,-2.71],[0.213,-2.88],[0.223,-2.93],[0.188,-2.88],[0.107,-3.19],[0.038,-3.44],
  [-0.011,-3.14],[0.305,-2.33],[0.326,-2.32],[0.366,-2.30],[0.133,-2.39],[0.141,-2.40],[0.117,-2.55],
  [0.154,-2.58],[0.02,-2.43],[0.01,-2.27],[0.072,-2.20],
  [-0.417,-2.29],[-0.366,-2.38],[-0.325,-2.31],[-0.304,-2.27],[-0.264,-2.33],[-0.232,-2.42],[-0.375,-2.70],
  [-0.345,-2.68],[-0.314,-2.61],[-0.294,-2.45],[-0.252,-2.52],[-0.202,-2.49],[-0.17,-2.56],[-0.15,-2.52],
  [-0.109,-2.54],[-0.068,-2.47],[-0.037,-2.36],[0.015,-2.34],[-0.417,-2.85],[-0.398,-3.05],[-0.335,-2.97],
  [-0.277,-3.04],[-0.242,-2.92],[-0.207,-2.95],[-0.15,-3.11],[-0.145,-3.14],[-0.092,-2.89],[-0.048,-2.70],
  [-0.027,-2.74],[-0.294,-3.20],[-0.236,-3.22],[-0.216,-3.55],[-0.216,-3.60],[-0.202,-3.27],[-0.14,-3.24],
  [-0.089,-2.11],[-0.15,-2.15],[-0.221,-2.13],[-0.314,-2.11],[-0.375,-2.15],[-0.458,-2.08],[-0.417,-2.17],
  [-0.478,-2.56]
];

let plot_left = 96, plot_top = 10.3, plot_right = 632.3, plot_bottom = 435.5;
let red = "#c4463a";

let svg = d3.select("#chart");

let x_scale = d3.scaleLinear().domain([-2.0, 1.3]).range([plot_left, plot_right]);
let y_scale = d3.scaleLinear().domain([-4.5, 1.3]).range([plot_bottom, plot_top]);

svg.append("defs").append("clipPath").attr("id", "plot_clip")
    .append("rect")
    .attr("x", plot_left).attr("y", plot_top)
    .attr("width", plot_right - plot_left).attr("height", plot_bottom - plot_top);

// gather all sources
let points = [];
core_col_x.forEach(function(x, i) { core_col_y[i].forEach(function(y) { points.push([x, y]); }); });
core2_col_x.forEach(function(x, i) { core2_col_y[i].forEach(function(y) { points.push([x, y]); }); });
points = points.concat(upper_fringe, core_edge, lower_halo, mid_scatter, faint_tail, bright_tail);

let plot_g = svg.append("g").attr("clip-path", "url(#plot_clip)");

plot_g.selectAll(".pt")
    .data(points)
    .enter()
    .append("circle")
    .attr("class", "pt")
    .attr("cx", function(d) { return x_scale(d[0]); })
    .attr("cy", function(d) { return y_scale(d[1]); })
    .attr("r", 2.3)
    .style("fill", "#000")
    .style("fill-opacity", 0.55);

// one-to-one and +/- 0.5 dex lines
let line_gen = d3.line()
    .x(function(d) { return x_scale(d[0]); })
    .y(function(d) { return y_scale(d[1]); });

plot_g.selectAll(".ref_line")
    .data(line_offsets)
    .enter()
    .append("path")
    .attr("class", "ref_line")
    .attr("d", function(o) { return line_gen(x_scale.domain().map(function(x) { return [x, x + o]; })); })
    .attr("fill", "none")
    .attr("stroke", red)
    .attr("stroke-width", 2.5)
    .attr("stroke-dasharray", function(o) { return o === 0 ? null : "9.5,4.5"; });

// axes, ticks pointing in, on all four sides
let x_minor = d3.range(-20, 14).map(function(v) { return v / 10; });
let y_minor = d3.range(-22, 7).map(function(v) { return v / 5; });

function add_axis(axis_fn, scale, translate, major, minor, fmt) {
    let g = svg.append("g").attr("transform", translate);
    g.call(axis_fn(scale).tickValues(minor).tickSize(-3.5).tickFormat(""));
    let g2 = svg.append("g").attr("transform", translate);
    g2.call(axis_fn(scale).tickValues(major).tickSize(-7).tickPadding(8).tickFormat(fmt));
    [g, g2].forEach(function(a) {
        a.select(".domain").remove();
        a.selectAll("line").attr("stroke", "#000").attr("stroke-width", 1.1);
        a.selectAll("text").style("font-size", "20.5px").attr("fill", "#000");
    });
    return g2;
}

let fmt_x = d3.format(".1f");
let fmt_y = d3.format("d");
let no_fmt = function() { return ""; };
add_axis(d3.axisBottom, x_scale, "translate(0," + plot_bottom + ")", x_ticks, x_minor, fmt_x);
add_axis(d3.axisTop, x_scale, "translate(0," + plot_top + ")", x_ticks, x_minor, no_fmt);
let y_ax = add_axis(d3.axisLeft, y_scale, "translate(" + plot_left + ",0)", y_ticks, y_minor, fmt_y);
add_axis(d3.axisRight, y_scale, "translate(" + (plot_right - 1) + ",0)", y_ticks, y_minor, no_fmt);
y_ax.selectAll("text").attr("dy", "0.36em");

svg.append("rect")
    .attr("x", plot_left).attr("y", plot_top)
    .attr("width", plot_right - 1 - plot_left).attr("height", plot_bottom - plot_top)
    .attr("fill", "none").attr("stroke", "#000").attr("stroke-width", 1.3);

// axis labels
function label_parts(sel, first) {
    sel.append("tspan").text(first);
    sel.append("tspan").style("font-style", "italic").text("f");
    sel.append("tspan").attr("dy", 5).style("font-size", "21px").style("font-style", "italic").text("ν");
    sel.append("tspan").style("font-size", "21px").text(", 3GHz");
    sel.append("tspan").attr("dy", -5).text(" [mJy]");
}

let x_label = svg.append("text")
    .attr("x", (plot_left + plot_right) / 2 - 4)
    .attr("y", 493)
    .attr("text-anchor", "middle")
    .style("font-size", "31px");
label_parts(x_label, "observed log");

let y_label = svg.append("text")
    .attr("transform", "translate(41," + ((plot_top + plot_bottom) / 2) + ") rotate(-90)")
    .attr("text-anchor", "middle")
    .style("font-size", "31px");
label_parts(y_label, "model log");

// legend
let legend = svg.append("g");
legend.append("rect")
    .attr("x", 104).attr("y", 18).attr("width", 239).attr("height", 67).attr("rx", 4)
    .attr("fill", "#fff").attr("fill-opacity", 0.8)
    .attr("stroke", "#cccccc").attr("stroke-width", 1);

legend_labels.forEach(function(lab, i) {
    let yy = 33 + i * 32;
    legend.append("line")
        .attr("x1", 108).attr("x2", 148).attr("y1", yy).attr("y2", yy)
        .attr("stroke", red).attr("stroke-width", 2.5)
        .attr("stroke-dasharray", i === 0 ? null : "9.5,4.5");
    legend.append("text")
        .attr("x", 157).attr("y", yy + 9)
        .style("font-size", "26px")
        .text(lab);
});

svg.append("text")
    .attr("x", 112).attr("y", 113)
    .style("font-size", "24px")
    .text("X-CIGALE");

</script>
</body>
</html>
